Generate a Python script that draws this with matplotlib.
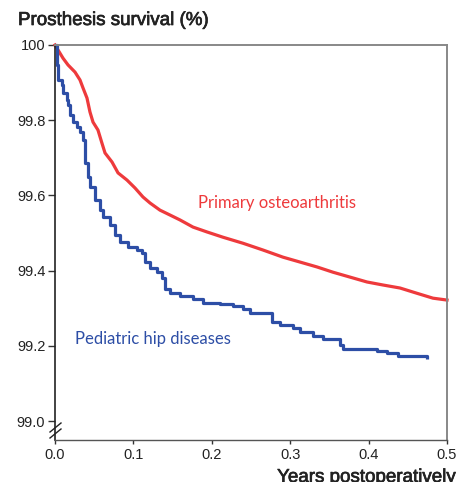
import matplotlib
matplotlib.use("Agg")
import matplotlib.pyplot as plt
import matplotlib.patheffects as pe
from matplotlib.lines import Line2D

plt.rcParams['font.family'] = ['Liberation Sans', 'DejaVu Sans']

# Pediatric hip diseases (step curve)
peds_years = [0.0, 0.0026, 0.0026, 0.0038, 0.0089, 0.0102, 0.0153, 0.0166, 0.0191, 0.0230,
              0.0281, 0.0319, 0.0357, 0.0383, 0.0421, 0.0446, 0.0510, 0.0574, 0.0612, 0.0702,
              0.0765, 0.0829, 0.0931, 0.1046, 0.1110, 0.1148, 0.1212, 0.1301, 0.1365, 0.1403,
              0.1467, 0.159, 0.176, 0.189, 0.210, 0.227, 0.240, 0.249, 0.277, 0.287,
              0.304, 0.3125, 0.329, 0.342, 0.364, 0.367, 0.411, 0.423, 0.4375, 0.474]
peds_surv = [100.0, 100.0, 99.947, 99.907, 99.894, 99.872, 99.854, 99.840, 99.814, 99.795,
             99.782, 99.769, 99.747, 99.686, 99.650, 99.622, 99.588, 99.561, 99.543, 99.521,
             99.495, 99.476, 99.463, 99.455, 99.447, 99.423, 99.407, 99.396, 99.380, 99.351,
             99.340, 99.332, 99.324, 99.314, 99.311, 99.306, 99.298, 99.287, 99.263, 99.255,
             99.247, 99.237, 99.226, 99.218, 99.202, 99.191, 99.186, 99.181, 99.173, 99.165]

# Primary osteoarthritis
oa_years = [0.0, 0.0038, 0.0102, 0.0166, 0.0255, 0.0319, 0.0357, 0.0408, 0.0446, 0.0485,
            0.0548, 0.0599, 0.0638, 0.0727, 0.0804, 0.0918, 0.1020, 0.1122, 0.1212, 0.1339,
            0.1467, 0.1594, 0.1760, 0.1939, 0.2143, 0.2398, 0.2653, 0.2908, 0.3125, 0.3342,
            0.3546, 0.3763, 0.3980, 0.4184, 0.4401, 0.4617, 0.4821, 0.5]
oa_surv = [100.0, 99.987, 99.965, 99.947, 99.928, 99.907, 99.886, 99.859, 99.822, 99.795,
           99.774, 99.739, 99.713, 99.689, 99.660, 99.641, 99.620, 99.596, 99.580, 99.561,
           99.548, 99.535, 99.516, 99.503, 99.489, 99.473, 99.455, 99.436, 99.423, 99.410,
           99.396, 99.383, 99.370, 99.362, 99.354, 99.340, 99.327, 99.322]

x_ticks = [0.0, 0.1, 0.2, 0.3, 0.4, 0.5]
y_ticks = [99.0, 99.2, 99.4, 99.6, 99.8, 100.0]
y_labels = ['99.0', '99.2', '99.4', '99.6', '99.8', '100']

RED = '#ee3a3c'
BLUE = '#2d4ea6'

fig = plt.figure(figsize=(4.58, 4.82), dpi=100)
ax = fig.add_axes([55/458, 1 - 440/482, 392/458, 395/482])

ax.plot(oa_years, oa_surv, color=RED, lw=2.3, solid_joinstyle='miter', clip_on=False)
ax.plot(peds_years, peds_surv, drawstyle='steps-post', color=BLUE, lw=2.3,
        solid_capstyle='butt', clip_on=False)

ax.text(0.1824, 99.58, 'Primary osteoarthritis', color=RED, fontsize=12,
        family=['Lato', 'DejaVu Sans'], va='center')
ax.text(0.0255, 99.218, 'Pediatric hip diseases', color=BLUE, fontsize=12,
        family=['Lato', 'DejaVu Sans'], va='center')

ax.set_xlim(0, 0.5)
ax.set_ylim(98.95, 100)
ax.set_xticks(x_ticks)
ax.set_xticklabels([f'{v:.1f}' for v in x_ticks])
ax.set_yticks(y_ticks)
ax.set_yticklabels(y_labels)
ax.tick_params(axis='y', direction='out', length=5, width=1, pad=2,
               labelsize=10.5, color='#333333', labelcolor='#222222')
ax.tick_params(axis='x', direction='out', length=3, width=1, pad=3,
               labelsize=10.5, color='#333333', labelcolor='#222222')

ax.spines['left'].set_color('#222222')
ax.spines['left'].set_linewidth(1.2)
ax.spines['bottom'].set_color('#555555')
ax.spines['bottom'].set_linewidth(1.0)
ax.spines['top'].set_color('#888888')
ax.spines['top'].set_linewidth(1.4)
ax.spines['right'].set_color('#888888')
ax.spines['right'].set_linewidth(1.4)

# axis break marks on the left spine
for yb in (438, 432):
    fig.add_artist(Line2D([50/458, 61/458], [1 - yb/482, 1 - (yb - 9)/482],
                          transform=fig.transFigure, color='#222222', lw=1.0))

# slightly heavier weight for the axis titles
heavy = [pe.withStroke(linewidth=0.5, foreground='#222222')]
fig.text(18/458, 1 - 12/482, 'Prosthesis survival (%)', fontsize=13.5,
         va='top', ha='left', color='#222222', path_effects=heavy)
fig.text(455/458, 1 - 469/482, 'Years postoperatively', fontsize=13.5,
         va='top', ha='right', color='#222222', path_effects=heavy)

fig.savefig('out.png', dpi=100)
